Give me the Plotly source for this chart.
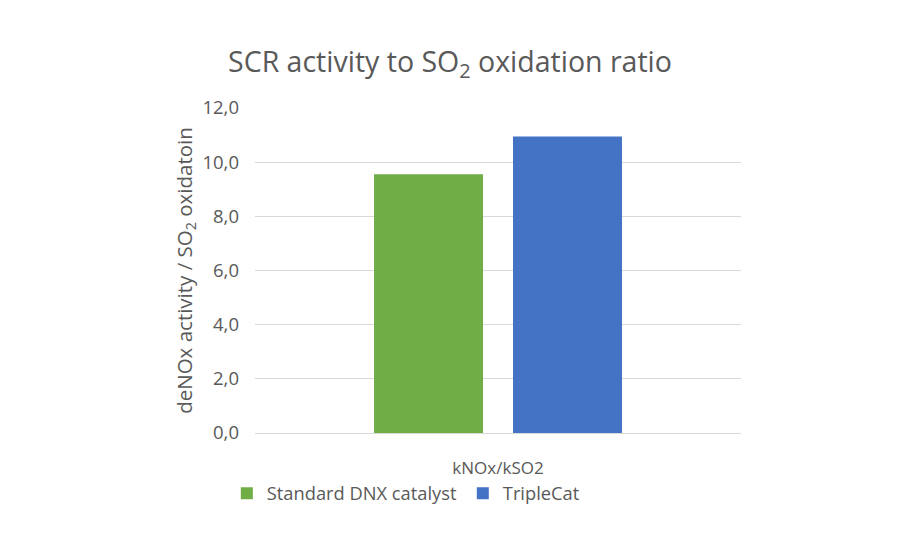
import plotly.graph_objects as go

categories = ["kNOx/kSO2"]
series_names = ["Standard DNX catalyst", "TripleCat"]
series_values = [[9.55], [10.95]]
colors = ["#70AD47", "#4472C4"]
y_ticks = [0, 2, 4, 6, 8, 10, 12]

FONT = "Open Sans"
TXT = "#595959"

fig = go.Figure()
for name, vals, c in zip(series_names, series_values, colors):
    fig.add_trace(go.Bar(x=categories, y=vals, name=name, marker=dict(color=c, line=dict(width=0))))

fig.update_layout(
    width=900, height=550,
    margin=dict(l=255, r=159, t=108, b=117),
    paper_bgcolor="white", plot_bgcolor="white",
    separators=",.",
    font=dict(family=FONT, color=TXT, size=16),
    title=dict(text="SCR activity to SO<sub>2</sub> oxidation ratio",
               x=0.5, xanchor="center", y=1 - 62 / 550, yanchor="middle",
               font=dict(family=FONT, size=28.5, color=TXT)),
    barmode="group", bargap=0.428, bargroupgap=0.216,
    showlegend=True,
    legend=dict(orientation="h", x=-0.058, xanchor="left", y=-0.186, yanchor="middle",
                entrywidth=191,
                font=dict(family=FONT, size=18.3, color=TXT), traceorder="normal"),
)
fig.update_yaxes(range=[0, 12], tickvals=y_ticks, tickformat=".1f",
                 gridcolor="#D9D9D9", gridwidth=1, zeroline=False, showline=False,
                 ticks="", ticklabelstandoff=15,
                 tickfont=dict(family=FONT, size=18.5, color=TXT),
                 title=dict(text="deNOx activity / SO<sub>2</sub> oxidatoin", standoff=4,
                            font=dict(family=FONT, size=20.5, color=TXT)))
fig.update_xaxes(showline=True, linecolor="#D9D9D9", linewidth=1, ticks="",
                 ticklabelstandoff=20,
                 tickfont=dict(family=FONT, size=17, color=TXT))

fig.write_html("out.html")
